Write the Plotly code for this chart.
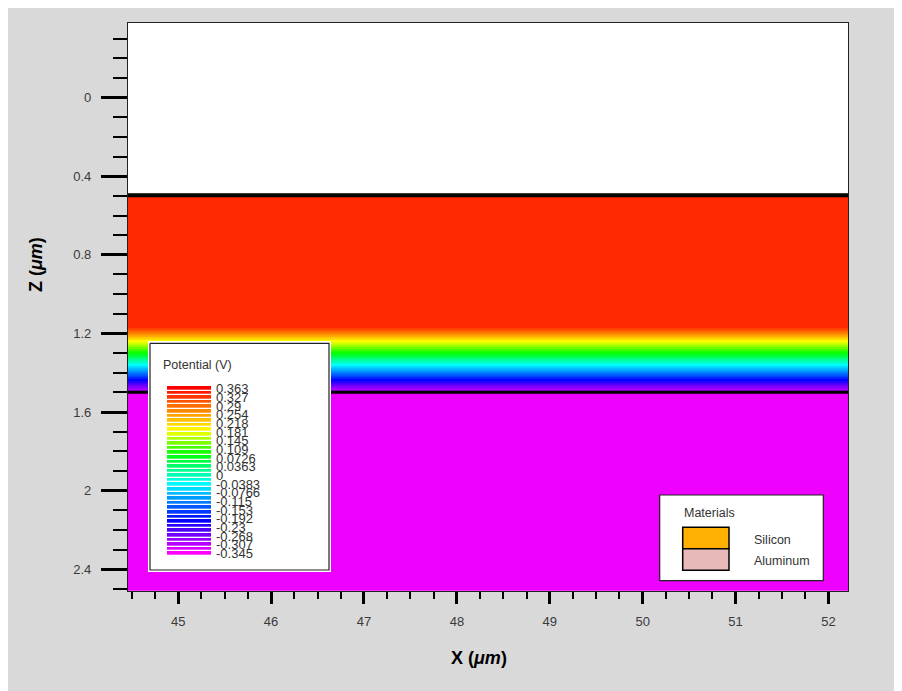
import numpy as np
import plotly.graph_objects as go

# ---------------- data ----------------
x_extent = [44.46, 52.21]                      # lateral extent of the simulated cut (um)
z_depth = [0.50, 1.17, 1.20, 1.24, 1.27, 1.30, 1.33, 1.36, 1.40, 1.437, 1.47, 1.495, 1.50, 2.51]
potential = [0.33, 0.33, 0.27, 0.18, 0.13, 0.08, 0.015, -0.048, -0.125, -0.203, -0.274, -0.31, -0.335, -0.335]
interface_z = [0.497, 1.50]                    # material boundaries (um)
level_labels = ["0.363", "0.327", "0.29", "0.254", "0.218", "0.181", "0.145", "0.109",
                "0.0726", "0.0363", "0", "-0.0383", "-0.0766", "-0.115", "-0.153",
                "-0.192", "-0.23", "-0.268", "-0.307", "-0.345"]
material_names = ["Silicon", "Aluminum"]
material_colors = ["#ffb000", "#e8b9b9"]
x_tick_vals = [45, 46, 47, 48, 49, 50, 51, 52]
y_tick_vals = [0, 0.4, 0.8, 1.2, 1.6, 2.0, 2.4]
y_tick_text = ["0", "0.4", "0.8", "1.2", "1.6", "2", "2.4"]

V_MIN, V_MAX = -0.345, 0.363
N_BANDS = 37
rainbow = [[0.0, "#ff0000"], [0.26, "#ffff00"], [0.40, "#00ff00"],
           [0.58, "#00ffff"], [0.80, "#0000ff"], [1.0, "#ff00ff"]]

# ---------------- layout helpers (page pixel coordinates) ----------------
BODY = 8                     # default page margin around the figure
W, H = 886, 683
PL, PR, PT, PB = 128, 848, 23, 591   # plot area in page pixels


def fx(p):
    return (p - PL) / (PR - PL)


def fy(p):
    return (PB - p) / (PB - PT)


FONT = "Liberation Sans, Arial, sans-serif"
TXT = "#3a3a3a"

fig = go.Figure()

# main potential map
fig.add_trace(go.Contour(
    x=x_extent, y=z_depth, z=[[v, v] for v in potential],
    colorscale=rainbow, reversescale=True, zmin=V_MIN, zmax=V_MAX,
    autocontour=False,
    contours=dict(start=V_MIN, end=V_MAX, size=(V_MAX - V_MIN) / N_BANDS,
                  coloring="fill", showlines=False),
    line=dict(width=0), showscale=False, hoverinfo="skip"))

# material boundaries
for zb, w in zip(interface_z, [4, 3]):
    fig.add_trace(go.Scatter(x=x_extent, y=[zb, zb], mode="lines",
                             line=dict(color="black", width=w),
                             showlegend=False, hoverinfo="skip"))

# ---------------- potential legend (own axes, page-pixel units) ----------------
box_l, box_r, box_t, box_b = 150, 329, 343.3, 570
fig.add_trace(go.Heatmap(x=[box_l, box_r], y=[box_t, box_b], z=[[0]],
                         colorscale=[[0, "white"], [1, "white"]], showscale=False,
                         xaxis="x2", yaxis="y2", hoverinfo="skip"))
bar_edges = np.linspace(386, 556, N_BANDS + 1)
fig.add_trace(go.Heatmap(x=[167, 211], y=bar_edges, z=[[k] for k in range(N_BANDS)],
                         colorscale=rainbow, zmin=0, zmax=N_BANDS - 1, ygap=1.3,
                         showscale=False, xaxis="x2", yaxis="y2", hoverinfo="skip"))
fig.add_trace(go.Scatter(x=[box_l, box_r, box_r, box_l, box_l],
                         y=[box_t, box_t, box_b, box_b, box_t], mode="lines",
                         line=dict(color="#222", width=1.2), xaxis="x2", yaxis="y2",
                         showlegend=False, hoverinfo="skip"))
label_y = [390 + 8.68 * i for i in range(len(level_labels))]
fig.add_trace(go.Scatter(x=[216] * len(level_labels), y=label_y, text=level_labels,
                         mode="text", textposition="middle right",
                         textfont=dict(family=FONT, size=13, color="#333"),
                         xaxis="x2", yaxis="y2", showlegend=False, hoverinfo="skip"))
fig.add_trace(go.Scatter(x=[163], y=[366], text=["Potential (V)"], mode="text",
                         textposition="middle right",
                         textfont=dict(family=FONT, size=12.5, color="#333"),
                         xaxis="x2", yaxis="y2", showlegend=False, hoverinfo="skip"))

# ---------------- shapes: materials legend ----------------
shapes = [
    dict(type="rect", xref="paper", yref="paper", x0=fx(659.7), x1=fx(823.3),
         y0=fy(580.7), y1=fy(495), fillcolor="white", line=dict(color="#222", width=1.2),
         layer="above"),
]
annotations = [
    dict(text="Materials", x=fx(682), y=fy(512.7), xref="paper", yref="paper",
         xanchor="left", yanchor="middle", showarrow=False,
         font=dict(family=FONT, size=12.5, color="#333")),
]
for i, (name, col) in enumerate(zip(material_names, material_colors)):
    top = 527.3 + i * 21.5
    shapes.append(dict(type="rect", xref="paper", yref="paper", x0=fx(682.7), x1=fx(729),
                       y0=fy(top + 21.5), y1=fy(top), fillcolor=col,
                       line=dict(color="black", width=1.5), layer="above"))
    annotations.append(dict(text=name, x=fx(752), y=fy(top + 12.5), xref="paper",
                            yref="paper", xanchor="left", yanchor="middle",
                            showarrow=False, font=dict(family=FONT, size=12.5, color="#333")))

annotations += [
    dict(text="<b>Z (<i>μm</i>)</b>", x=fx(36), y=fy(265), xref="paper", yref="paper",
         textangle=-90, showarrow=False, xanchor="center", yanchor="middle",
         font=dict(family=FONT, size=18, color="black")),
    dict(text="<b>X (<i>μm</i>)</b>", x=fx(479), y=fy(658), xref="paper", yref="paper",
         showarrow=False, xanchor="center", yanchor="middle",
         font=dict(family=FONT, size=18, color="black")),
]

fig.update_layout(
    width=W, height=H,
    margin=dict(l=PL - BODY, r=(BODY + W) - PR, t=PT - BODY, b=(BODY + H) - PB, pad=0),
    paper_bgcolor="#d9d9d9", plot_bgcolor="white",
    showlegend=False,
    font=dict(family=FONT, size=13, color=TXT),
    xaxis=dict(range=x_extent, domain=[0, 1], tickmode="array", tickvals=x_tick_vals,
               ticks="outside", ticklen=12, tickwidth=2.5, tickcolor="black",
               ticklabelstandoff=6, showgrid=False, zeroline=False,
               showline=True, mirror=True, linecolor="#222", linewidth=1.2,
               tickfont=dict(family=FONT, size=13, color=TXT),
               minor=dict(ticks="outside", ticklen=7, tickwidth=1.5, tickcolor="black",
                          dtick=0.25, tick0=45, showgrid=False)),
    yaxis=dict(range=[2.511, -0.38], domain=[0, 1], tickmode="array",
               tickvals=y_tick_vals, ticktext=y_tick_text,
               ticks="outside", ticklen=26, tickwidth=2.5, tickcolor="black",
               ticklabelstandoff=7, showgrid=False, zeroline=False,
               showline=True, mirror=True, linecolor="#222", linewidth=1.2,
               tickfont=dict(family=FONT, size=13, color=TXT),
               minor=dict(ticks="outside", ticklen=14, tickwidth=1.5, tickcolor="black",
                          dtick=0.1, tick0=0, showgrid=False)),
    xaxis2=dict(domain=[fx(148), fx(331)], range=[148, 331], visible=False,
                anchor="y2", fixedrange=True),
    yaxis2=dict(domain=[fy(572), fy(341)], range=[572, 341], visible=False,
                anchor="x2", fixedrange=True),
    shapes=shapes,
    annotations=annotations,
)

fig.write_html("out.html")
